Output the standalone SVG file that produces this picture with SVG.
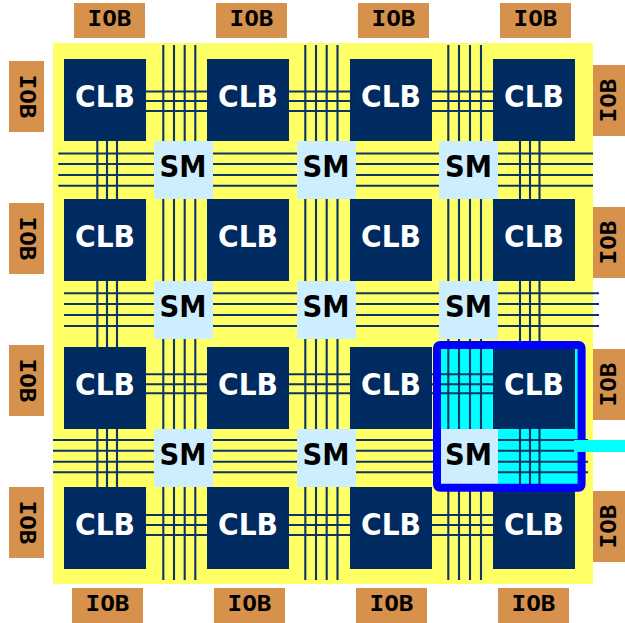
<svg xmlns="http://www.w3.org/2000/svg" width="625" height="623" viewBox="0 0 625 623">
<style>
.clb{fill:#002b60}
.sm{fill:#cceeff}
.iob{fill:#d6914c}
.w{stroke:#0c3566;stroke-width:2.1;fill:none}
text{text-anchor:middle;font-family:"DejaVu Sans",Verdana,sans-serif;font-weight:bold}
.c{fill:#fff;font-size:29.5px}
.s{fill:#000;font-size:30px}
.i{fill:#000;font-size:20.5px;font-family:"DejaVu Sans Mono",monospace}
</style>
<rect id="board" x="53" y="43" width="540" height="541" fill="#ffff66"/>
<g id="highlight-fill" fill="#00ffff">
<rect x="441" y="349" width="52" height="80"/>
<rect x="498" y="429" width="80" height="55"/>
<rect x="575" y="349" width="3" height="80"/>
</g>
<g id="connectors" class="w">
<path d="M163.3 45V580M174 45V580M184.7 45V580M195.3 45V580"/>
<path d="M305.3 45V580M316 45V580M326.7 45V580M337.5 45V580"/>
<path d="M448.3 45V580M459 45V580M470 45V580M481 45V580"/>
<path d="M97.3 141V199M107 141V199M117 141V199M97.3 281V347M107 281V347M117 281V347M97.3 429V487M107 429V487M117 429V487"/>
<path d="M520 141V199M530 141V199M539.5 141V199M520 281V347M530 281V347M539.5 281V347M520 429V487M530 429V487M539.5 429V487"/>
<path d="M58.3 153.5H593M58.3 164H593M58.3 175H593M58.3 185.7H593"/>
<path d="M64 293.3H599M64 304H599M64 315H599M64 326H599"/>
<path d="M53 440H588M53 450.7H588M53 461.7H588M53 472.3H588"/>
<path d="M146 91.5H493M146 101H493M146 111H493"/>
<path d="M146 374.3H493M146 384.3H493M146 393.3H493"/>
<path d="M146 515H493M146 525H493M146 535H493"/>
</g>
<g id="clb-1-1"><rect class="clb" x="64" y="59" width="82" height="82"/><text class="c" x="105" y="107" textLength="60" lengthAdjust="spacingAndGlyphs">CLB</text></g>
<g id="clb-1-2"><rect class="clb" x="207" y="59" width="82" height="82"/><text class="c" x="248" y="107" textLength="60" lengthAdjust="spacingAndGlyphs">CLB</text></g>
<g id="clb-1-3"><rect class="clb" x="350" y="59" width="82" height="82"/><text class="c" x="391" y="107" textLength="60" lengthAdjust="spacingAndGlyphs">CLB</text></g>
<g id="clb-1-4"><rect class="clb" x="493" y="59" width="82" height="82"/><text class="c" x="534" y="107" textLength="60" lengthAdjust="spacingAndGlyphs">CLB</text></g>
<g id="clb-2-1"><rect class="clb" x="64" y="199" width="82" height="82"/><text class="c" x="105" y="247" textLength="60" lengthAdjust="spacingAndGlyphs">CLB</text></g>
<g id="clb-2-2"><rect class="clb" x="207" y="199" width="82" height="82"/><text class="c" x="248" y="247" textLength="60" lengthAdjust="spacingAndGlyphs">CLB</text></g>
<g id="clb-2-3"><rect class="clb" x="350" y="199" width="82" height="82"/><text class="c" x="391" y="247" textLength="60" lengthAdjust="spacingAndGlyphs">CLB</text></g>
<g id="clb-2-4"><rect class="clb" x="493" y="199" width="82" height="82"/><text class="c" x="534" y="247" textLength="60" lengthAdjust="spacingAndGlyphs">CLB</text></g>
<g id="clb-3-1"><rect class="clb" x="64" y="347" width="82" height="82"/><text class="c" x="105" y="395" textLength="60" lengthAdjust="spacingAndGlyphs">CLB</text></g>
<g id="clb-3-2"><rect class="clb" x="207" y="347" width="82" height="82"/><text class="c" x="248" y="395" textLength="60" lengthAdjust="spacingAndGlyphs">CLB</text></g>
<g id="clb-3-3"><rect class="clb" x="350" y="347" width="82" height="82"/><text class="c" x="391" y="395" textLength="60" lengthAdjust="spacingAndGlyphs">CLB</text></g>
<g id="clb-3-4"><rect class="clb" x="493" y="347" width="82" height="82"/><text class="c" x="534" y="395" textLength="60" lengthAdjust="spacingAndGlyphs">CLB</text></g>
<g id="clb-4-1"><rect class="clb" x="64" y="487" width="82" height="82"/><text class="c" x="105" y="535" textLength="60" lengthAdjust="spacingAndGlyphs">CLB</text></g>
<g id="clb-4-2"><rect class="clb" x="207" y="487" width="82" height="82"/><text class="c" x="248" y="535" textLength="60" lengthAdjust="spacingAndGlyphs">CLB</text></g>
<g id="clb-4-3"><rect class="clb" x="350" y="487" width="82" height="82"/><text class="c" x="391" y="535" textLength="60" lengthAdjust="spacingAndGlyphs">CLB</text></g>
<g id="clb-4-4"><rect class="clb" x="493" y="487" width="82" height="82"/><text class="c" x="534" y="535" textLength="60" lengthAdjust="spacingAndGlyphs">CLB</text></g>
<g id="sm-1-1"><rect class="sm" x="154" y="141" width="59" height="58"/><text class="s" x="183" y="176.5" textLength="47" lengthAdjust="spacingAndGlyphs">SM</text></g>
<g id="sm-1-2"><rect class="sm" x="297" y="141" width="59" height="58"/><text class="s" x="326" y="176.5" textLength="47" lengthAdjust="spacingAndGlyphs">SM</text></g>
<g id="sm-1-3"><rect class="sm" x="439" y="141" width="59" height="58"/><text class="s" x="468.5" y="176.5" textLength="47" lengthAdjust="spacingAndGlyphs">SM</text></g>
<g id="sm-2-1"><rect class="sm" x="154" y="281" width="59" height="58"/><text class="s" x="183" y="316.5" textLength="47" lengthAdjust="spacingAndGlyphs">SM</text></g>
<g id="sm-2-2"><rect class="sm" x="297" y="281" width="59" height="58"/><text class="s" x="326" y="316.5" textLength="47" lengthAdjust="spacingAndGlyphs">SM</text></g>
<g id="sm-2-3"><rect class="sm" x="439" y="281" width="59" height="58"/><text class="s" x="468.5" y="316.5" textLength="47" lengthAdjust="spacingAndGlyphs">SM</text></g>
<g id="sm-3-1"><rect class="sm" x="154" y="429" width="59" height="58"/><text class="s" x="183" y="464.5" textLength="47" lengthAdjust="spacingAndGlyphs">SM</text></g>
<g id="sm-3-2"><rect class="sm" x="297" y="429" width="59" height="58"/><text class="s" x="326" y="464.5" textLength="47" lengthAdjust="spacingAndGlyphs">SM</text></g>
<g id="sm-3-3"><rect class="sm" x="439" y="429" width="59" height="58"/><text class="s" x="468.5" y="464.5" textLength="47" lengthAdjust="spacingAndGlyphs">SM</text></g>
<g id="iob-t1"><rect class="iob" x="74" y="3" width="71" height="35"/><text class="i" x="109.5" y="26" textLength="44" lengthAdjust="spacingAndGlyphs">IOB</text></g>
<g id="iob-t2"><rect class="iob" x="216" y="3" width="71" height="35"/><text class="i" x="251.5" y="26" textLength="44" lengthAdjust="spacingAndGlyphs">IOB</text></g>
<g id="iob-t3"><rect class="iob" x="358" y="3" width="71" height="35"/><text class="i" x="393.5" y="26" textLength="44" lengthAdjust="spacingAndGlyphs">IOB</text></g>
<g id="iob-t4"><rect class="iob" x="500" y="3" width="71" height="35"/><text class="i" x="535.5" y="26" textLength="44" lengthAdjust="spacingAndGlyphs">IOB</text></g>
<g id="iob-b1"><rect class="iob" x="72" y="588" width="71" height="35"/><text class="i" x="107.5" y="611" textLength="44" lengthAdjust="spacingAndGlyphs">IOB</text></g>
<g id="iob-b2"><rect class="iob" x="214" y="588" width="71" height="35"/><text class="i" x="249.5" y="611" textLength="44" lengthAdjust="spacingAndGlyphs">IOB</text></g>
<g id="iob-b3"><rect class="iob" x="356" y="588" width="71" height="35"/><text class="i" x="391.5" y="611" textLength="44" lengthAdjust="spacingAndGlyphs">IOB</text></g>
<g id="iob-b4"><rect class="iob" x="498" y="588" width="71" height="35"/><text class="i" x="533.5" y="611" textLength="44" lengthAdjust="spacingAndGlyphs">IOB</text></g>
<g id="iob-l1"><rect class="iob" x="9" y="61" width="35" height="71"/><text class="i" transform="translate(20 96.5) rotate(90)" textLength="44" lengthAdjust="spacingAndGlyphs">IOB</text></g>
<g id="iob-l2"><rect class="iob" x="9" y="203" width="35" height="71"/><text class="i" transform="translate(20 238.5) rotate(90)" textLength="44" lengthAdjust="spacingAndGlyphs">IOB</text></g>
<g id="iob-l3"><rect class="iob" x="9" y="345" width="35" height="71"/><text class="i" transform="translate(20 380.5) rotate(90)" textLength="44" lengthAdjust="spacingAndGlyphs">IOB</text></g>
<g id="iob-l4"><rect class="iob" x="9" y="487" width="35" height="71"/><text class="i" transform="translate(20 522.5) rotate(90)" textLength="44" lengthAdjust="spacingAndGlyphs">IOB</text></g>
<g id="iob-r1"><rect class="iob" x="593" y="65" width="32" height="71"/><text class="i" transform="translate(616 100.5) rotate(-90)" textLength="44" lengthAdjust="spacingAndGlyphs">IOB</text></g>
<g id="iob-r2"><rect class="iob" x="593" y="207" width="32" height="71"/><text class="i" transform="translate(616 242.5) rotate(-90)" textLength="44" lengthAdjust="spacingAndGlyphs">IOB</text></g>
<g id="iob-r3"><rect class="iob" x="593" y="349" width="32" height="71"/><text class="i" transform="translate(616 384.5) rotate(-90)" textLength="44" lengthAdjust="spacingAndGlyphs">IOB</text></g>
<g id="iob-r4"><rect class="iob" x="593" y="491" width="32" height="71"/><text class="i" transform="translate(616 526.5) rotate(-90)" textLength="44" lengthAdjust="spacingAndGlyphs">IOB</text></g>
<g id="selection">
<rect x="437" y="345" width="144.6" height="142.8" rx="3" fill="none" stroke="#0000ff" stroke-width="8"/>
<rect x="574" y="440" width="51" height="12" fill="#00ffff"/>
</g>
</svg>
